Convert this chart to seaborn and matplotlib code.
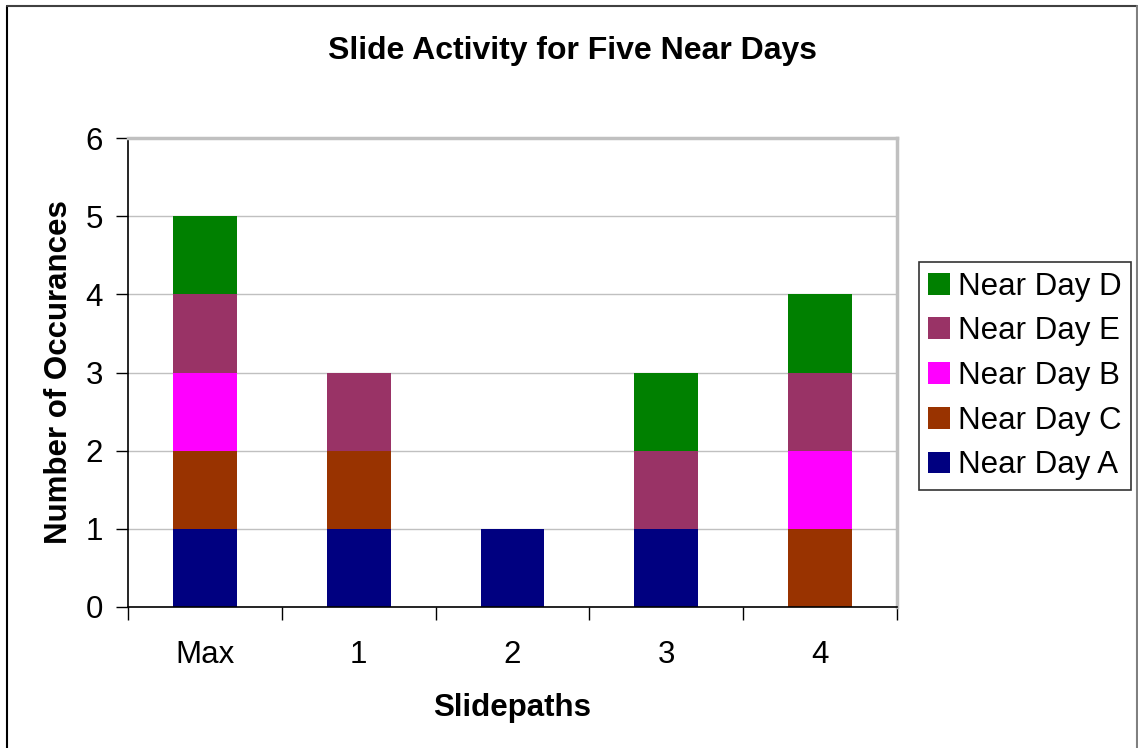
import matplotlib
matplotlib.use("Agg")
import matplotlib.pyplot as plt
import seaborn as sns
import numpy as np
import pandas as pd
from matplotlib.patches import Patch
from matplotlib.lines import Line2D
from matplotlib.ticker import FixedLocator

categories = ["Max", "1", "2", "3", "4"]
near_day_a = [1, 1, 1, 1, 0]
near_day_c = [1, 1, 0, 0, 1]
near_day_b = [1, 0, 0, 0, 1]
near_day_e = [1, 1, 0, 1, 1]
near_day_d = [1, 0, 0, 1, 1]

series_names = ["Near Day A", "Near Day C", "Near Day B", "Near Day E", "Near Day D"]
series_vals = [near_day_a, near_day_c, near_day_b, near_day_e, near_day_d]
colors = {"Near Day A": "#000080", "Near Day C": "#993300", "Near Day B": "#FF00FF",
          "Near Day E": "#993366", "Near Day D": "#008000"}

sns.set_theme(style="white")
plt.rcParams["font.family"] = ["Liberation Sans", "DejaVu Sans"]
plt.rcParams["text.color"] = "black"
plt.rcParams["axes.labelcolor"] = "black"
plt.rcParams["xtick.color"] = "black"
plt.rcParams["ytick.color"] = "black"

fig = plt.figure(figsize=(11.38, 7.48), dpi=100)
ax = fig.add_axes([128/1138, 1-607/748, (897-128)/1138, (607-138)/748])

cum = np.cumsum(np.array(series_vals), axis=0)
# draw from top of stack downward so lower layers overlay
for i in range(len(series_names) - 1, -1, -1):
    df = pd.DataFrame({"cat": categories, "val": cum[i]})
    sns.barplot(data=df, x="cat", y="val", color=colors[series_names[i]],
                width=0.416, ax=ax, saturation=1, edgecolor="none", linewidth=0)

ax.set_xlim(-0.5, 4.5)
ax.set_ylim(0, 6)
ax.set_yticks(range(0, 7))
ax.yaxis.grid(True, color="#c0c0c0", linewidth=1)
ax.set_axisbelow(True)
ax.tick_params(axis="y", which="major", left=True, length=9, width=1, color="black",
               labelsize=22.5, pad=9, labelcolor="black")
ax.tick_params(axis="x", which="major", bottom=False, length=0, labelsize=22.5, pad=24,
               labelcolor="black")
ax.xaxis.set_minor_locator(FixedLocator(np.arange(-0.5, 5.0, 1.0)))
ax.tick_params(axis="x", which="minor", bottom=True, length=9, width=1, color="black")

for s in ["left", "bottom"]:
    ax.spines[s].set_color("black")
    ax.spines[s].set_linewidth(1.2)
for s in ["top", "right"]:
    ax.spines[s].set_color("#c0c0c0")
    ax.spines[s].set_linewidth(2.5)

ax.set_xlabel("Slidepaths", fontsize=22.5, fontweight="bold", labelpad=16, color="black")
ax.set_ylabel("Number of Occurances", fontsize=22.5, fontweight="bold", labelpad=8,
              color="black")
fig.text(573/1138, 1-51/748, "Slide Activity for Five Near Days", fontsize=23,
         fontweight="bold", ha="center", va="center", color="black")

handles = [Patch(facecolor=colors[n], edgecolor="none", label=n) for n in series_names[::-1]]
leg = fig.legend(handles=handles, loc="center left", bbox_to_anchor=(919/1138, 1-376/748),
                 fontsize=22.5, frameon=True, fancybox=False, edgecolor="black",
                 handlelength=0.7, handleheight=0.7, handletextpad=0.25,
                 labelspacing=0.47, borderpad=0.3, borderaxespad=0)
leg.get_frame().set_linewidth(1.2)
for t in leg.get_texts():
    t.set_color("black")

W, H = 1138, 748
fig.add_artist(Line2D([7/W, 7/W], [0, 1-6/H], transform=fig.transFigure, color="black", linewidth=1.5))
fig.add_artist(Line2D([7/W, 1137/W], [1-6/H, 1-6/H], transform=fig.transFigure, color="#404040", linewidth=1.5))
fig.add_artist(Line2D([1137/W, 1137/W], [0, 1-6/H], transform=fig.transFigure, color="#808080", linewidth=1.5))

fig.savefig("out.png", dpi=100)
